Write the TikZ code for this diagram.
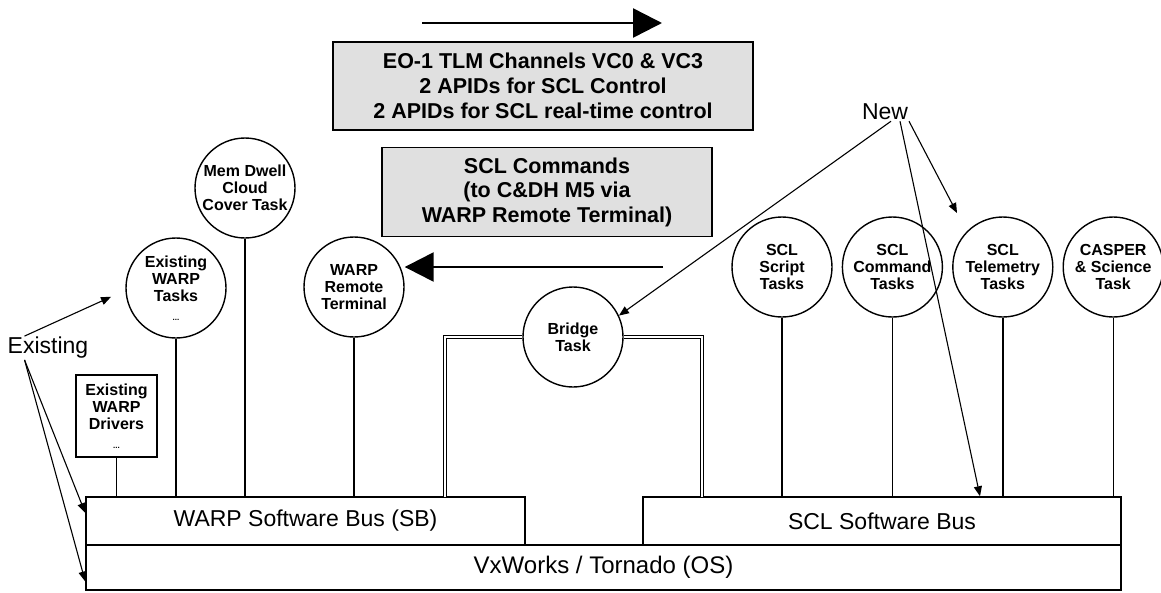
\documentclass[tikz,border=0pt]{standalone}
\usepackage{fontspec}
\setmainfont{Liberation Sans}
\usetikzlibrary{arrows.meta,positioning}

\begin{document}
\begin{tikzpicture}[
  x=1pt,y=-1pt,
  node distance=9pt and 9pt,
  task/.style={draw,circle,line width=1.4pt,minimum size=100pt,inner sep=0pt,align=center,font=\bfseries\fontsize{16}{17}\selectfont},
  drv/.style={draw,line width=1.4pt,minimum width=81pt,minimum height=82pt,inner sep=0pt,align=center,font=\bfseries\fontsize{16}{17}\selectfont},
  msg/.style={draw,line width=1.5pt,fill=black!12,align=center,inner sep=0pt,font=\bfseries\fontsize{21.5}{25}\selectfont},
  bus/.style={draw,line width=1.5pt,inner sep=0pt,font=\fontsize{23}{25}\selectfont},
  lbl/.style={inner sep=1pt,font=\fontsize{23}{25}\selectfont},
  big/.style={-{Triangle[length=29pt,width=29pt]},line width=2.5pt},
  ptr/.style={-{Triangle[length=10pt,width=8pt]},line width=1.1pt},
  link/.style={line width=1.4pt},
  bridge/.style={double,double distance=2pt,line width=0.9pt}
]
\useasboundingbox (0,0) rectangle (1161,592);

% buses and OS
\node[bus,minimum width=439pt,minimum height=48pt] (wsb) at (305.5,521) {WARP Software Bus (SB)};
\node[bus,minimum width=478pt,minimum height=48pt] (ssb) at (882,521) {SCL Software Bus};
\node[bus,minimum width=1035pt,minimum height=45pt,font=\fontsize{24}{26}\selectfont] (os) at (603.5,567.5) {VxWorks / Tornado (OS)};

% message boxes
\node[msg,minimum width=420pt,minimum height=88pt] (tlm) at (543,86) {EO-1 TLM Channels VC0 \& VC3\\2 APIDs for SCL Control\\2 APIDs for SCL real-time control};
\node[msg,minimum width=330pt,minimum height=89pt,font=\bfseries\fontsize{21.5}{24.5}\selectfont] (cmds) at (547,192) {SCL Commands\\(to C\&DH M5 via\\WARP Remote Terminal)};

% WARP side
\node[drv] (drv) at (116.5,416) {Existing\\WARP\\Drivers\\[2pt]{\fontsize{8}{9}\selectfont ...}};
\node[task] (ext) at (176,288) {Existing\\WARP\\Tasks\\[2pt]{\fontsize{8}{9}\selectfont ...}};
\node[task] (mem) at (245,188) {Mem Dwell\\Cloud\\Cover Task};
\node[task] (rt) at (354,287) {WARP\\Remote\\Terminal};
\node[task] (brg) at (573,337) {Bridge\\Task};

% SCL side
\node[task] (scr) at (782,267) {SCL\\Script\\Tasks};
\node[task,right=of scr] (cmd) {SCL\\Command\\Tasks};
\node[task,right=of cmd] (tel) {SCL\\Telemetry\\Tasks};
\node[task,right=of tel] (casp) {CASPER\\\& Science\\Task};

% labels
\node[lbl] (ex) at (48,348) {Existing};
\node[lbl] (new) at (885,112) {New};

\coordinate (tl) at (422,23);
\coordinate (tr) at (662,23);
\coordinate (cr) at (663,267);
\coordinate (bl) at (445,497);
\coordinate (br) at (702,497);
\coordinate (telhit) at (957,213);

% bus taps
\draw[link] (drv.south) -- (drv.south |- wsb.north);
\draw[link] (ext.south) -- (ext.south |- wsb.north);
\draw[link] (mem.south) -- (mem.south |- wsb.north);
\draw[link] (rt.south) -- (rt.south |- wsb.north);
\foreach \t in {scr,cmd,tel,casp}
  \draw[link] (\t.south) -- (\t.south |- ssb.north);
\draw[bridge] (brg.west) -| (bl);
\draw[bridge] (brg.east) -| (br);

% flow arrows
\draw[big] (tl) -- (tr);
\draw[big] (cr) -- (cr -| rt.east);

% pointers
\draw[ptr] ([xshift=18pt]ex.north west) -- ([xshift=-15pt]ext.190);
\draw[ptr] ([xshift=18pt]ex.south west) -- ([yshift=8pt]wsb.west);
\draw[ptr] ([xshift=18pt]ex.south west) -- ([yshift=-14pt]os.west);
\draw[ptr] ([xshift=6pt]new.south) -- (brg.25);
\draw[ptr] ([xshift=15pt]new.south) -- ([xshift=98pt]ssb.north);
\draw[ptr] ([xshift=24pt]new.south) -- (telhit);
\end{tikzpicture}
\end{document}
